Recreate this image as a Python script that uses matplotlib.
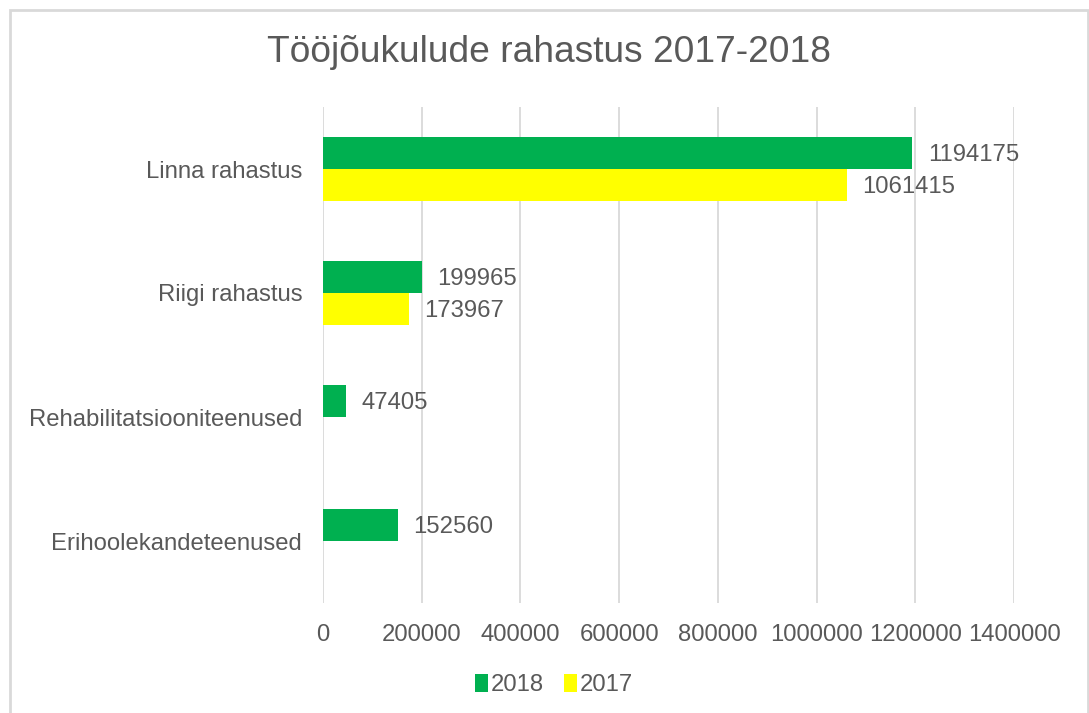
import matplotlib
matplotlib.use("Agg")
import matplotlib.pyplot as plt
from matplotlib.patches import Rectangle
import numpy as np

categories = ["Linna rahastus", "Riigi rahastus", "Rehabilitatsiooniteenused", "Erihoolekandeteenused"]
values_2018 = [1194175, 199965, 47405, 152560]
values_2017 = [1061415, 173967, 0, 0]
series_labels = ["2018", "2017"]
xticks = [0, 200000, 400000, 600000, 800000, 1000000, 1200000, 1400000]

TXT = "#595959"
GREEN = "#00B050"
YELLOW = "#FFFF00"
plt.rcParams['font.family'] = ['Liberation Sans', 'DejaVu Sans']

W, H = 1089, 713
FS = 17.2
fig = plt.figure(figsize=(W/100, H/100), dpi=100)
ax = fig.add_axes([323/W, 1-603/H, (1014-323)/W, (603-107)/H])

y = np.arange(len(categories))
h = 0.258
off = 0.129
b18 = ax.barh(y - off, values_2018, height=h, color=GREEN, label=series_labels[0], zorder=3)
b17 = ax.barh(y + off, values_2017, height=h, color=YELLOW, label=series_labels[1], zorder=3)

for bars, vals in ((b18, values_2018), (b17, values_2017)):
    for rect, v in zip(bars, vals):
        if v:
            ax.annotate(str(v), (v, rect.get_y() + rect.get_height()/2),
                        xytext=(11, -1.2), textcoords="offset points",
                        ha="left", va="center", fontsize=FS, color=TXT)

ax.set_xlim(0, 1400000)
ax.set_ylim(3.5, -0.5)
ax.set_xticks(xticks)
ax.set_xticklabels([str(t) for t in xticks])
ax.set_yticks(y)
ax.set_yticklabels(categories)
ax.tick_params(axis='both', length=0, labelsize=FS, colors=TXT)
ax.tick_params(axis='x', pad=15)
ax.tick_params(axis='y', pad=15)
ax.grid(axis='x', color="#d9d9d9", linewidth=1.3, zorder=0)
for s in ax.spines.values():
    s.set_visible(False)

fig.suptitle("Tööjõukulude rahastus 2017-2018", x=549/W, y=1-53/H, va='center',
             fontsize=26.7, color=TXT)

leg = fig.legend(handles=[b18, b17], labels=series_labels, loc='center',
                 bbox_to_anchor=(554/W, 1-685/H), ncol=2, frameon=False,
                 fontsize=FS, labelcolor=TXT, handlelength=0.55, handleheight=0.8,
                 handletextpad=0.12, columnspacing=0.85)

fig.patches.append(Rectangle((9.5/W, -0.05), (1087.5-9.5)/W, 1.05 - 10.5/H,
                             transform=fig.transFigure, fill=False,
                             edgecolor="#d9d9d9", linewidth=2))

fig.savefig("out.png", dpi=100)
